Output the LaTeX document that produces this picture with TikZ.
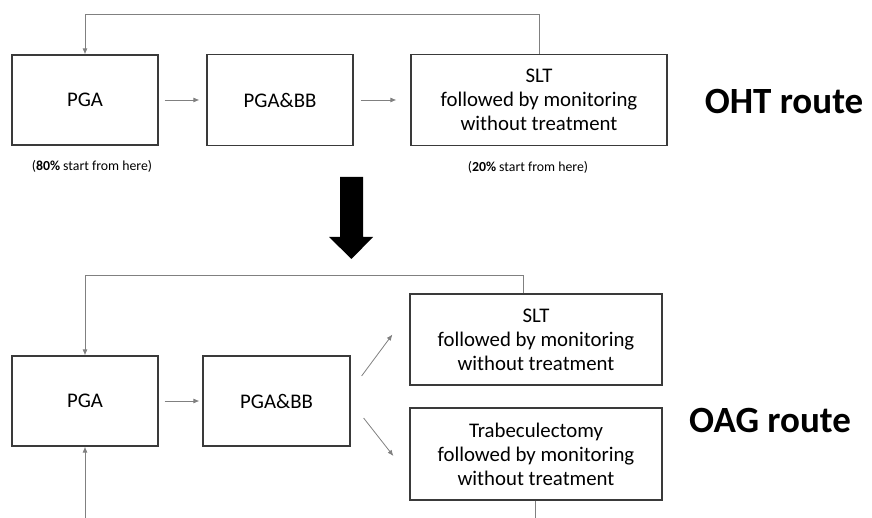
\documentclass[tikz,border=0pt]{standalone}
\usepackage{fontspec}
\setmainfont{Carlito}
\usetikzlibrary{arrows.meta,calc}
\definecolor{boxline}{HTML}{3A3A3A}
\definecolor{connline}{HTML}{808080}
\tikzset{
  stagebox/.style={draw=boxline, line width=1.2pt, rectangle, align=center, font=\fontsize{20.8}{24}\selectfont, inner sep=0pt},
  conn/.style={draw=connline, line width=0.8pt},
  connarrow/.style={conn, -{Latex[length=6pt,width=5pt]}, >=Latex},
  note/.style={font=\fontsize{13.8}{16}\selectfont},
  routelabel/.style={font=\fontsize{37}{42}\selectfont\bfseries}
}
\begin{document}
\begin{tikzpicture}[x=1pt,y=-1pt]
\useasboundingbox (0,0) rectangle (872,518);
% ---- top row (OHT) ----
\node[stagebox, minimum width=146pt, minimum height=90pt] (pga1) at (85,100) {PGA};
\node[stagebox, minimum width=146pt, minimum height=91pt] (pgabb1) at (280,100) {PGA\&BB};
\node[stagebox, minimum width=256pt, minimum height=91pt] (slt1) at (539,100) {SLT\\followed by monitoring\\without treatment};
\node[routelabel] (oht) at (784,102) {OHT route};
\node[note] (n80) at ($(pga1.south)+(7,21)$) {(\textbf{80\%} start from here)};
\node[note] (n20) at ($(slt1.south)+(-11,21)$) {(\textbf{20\%} start from here)};
\draw[connarrow, shorten <=6pt, shorten >=7pt] (pga1.east) -- (pgabb1.west);
\draw[connarrow, shorten <=7pt, shorten >=14pt] (pgabb1.east) -- (slt1.west);
\coordinate (t1) at (539,14);
\draw[connarrow] (slt1.north) -- (t1) -| (pga1.north);
% ---- big arrow ----
\fill[black] (340,177) -- (363,177) -- (363,237) -- (373,237) -- (351.5,259) -- (329,237) -- (340,237) -- cycle;
% ---- bottom row (OAG) ----
\node[stagebox, minimum width=146pt, minimum height=90pt] (pga2) at (85,401) {PGA};
\node[stagebox, minimum width=147pt, minimum height=90pt] (pgabb2) at (276.5,401) {PGA\&BB};
\node[stagebox, minimum width=252pt, minimum height=91pt] (slt2) at (536,339.5) {SLT\\followed by monitoring\\without treatment};
\node[stagebox, minimum width=252pt, minimum height=92pt] (trab2) at (536,454) {Trabeculectomy\\followed by monitoring\\without treatment};
\node[routelabel] (oag) at (770,421) {OAG route};
\draw[connarrow, shorten <=6pt, shorten >=3pt] (pga2.east) -- (pgabb2.west);
\draw[connarrow] ($(pgabb2.east)+(11,-25)$) -- ($(slt2.west)+(-17,-5)$);
\draw[connarrow] ($(pgabb2.east)+(13,17)$) -- ($(trab2.west)+(-16,2)$);
\coordinate (t2) at (523,275);
\draw[connarrow] ([xshift=-13pt]slt2.north) -- (t2) -| (pga2.north);
\coordinate (b2) at (535,520);
\coordinate (b1) at (85,520);
\draw[conn] ([xshift=-1pt]trab2.south) -- (b2);
\draw[connarrow] (b1) -- (pga2.south);
\end{tikzpicture}
\end{document}
